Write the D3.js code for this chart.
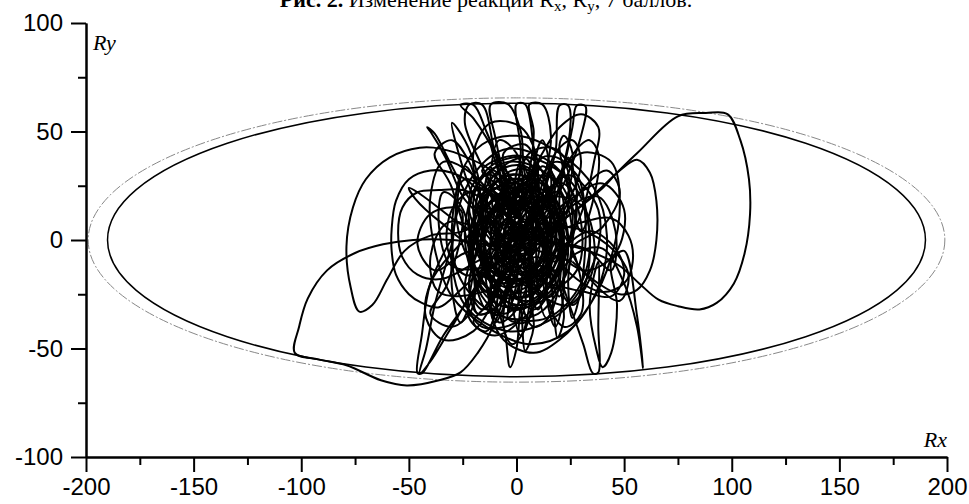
<!DOCTYPE html>
<html>
<head>
<meta charset="utf-8">
<script src="https://cdn.jsdelivr.net/npm/d3@7"></script>
<style>
  body { margin: 0; background: #fff; }
  svg { display: block; }
  .tick text { font-family: Arial, "Liberation Sans", sans-serif; font-size: 24px; fill: #000; }
  .axis path, .axis line { stroke: #000; stroke-width: 2px; }
</style>
</head>
<body>
<div id="chart"></div>
<script>
// axis ticks
var xMajor = [-200, -150, -100, -50, 0, 50, 100, 150, 200];
var xMinor = [-175, -125, -75, -25, 25, 75, 125, 175];
var yMajor = [-100, -50, 0, 50, 100];
var yMinor = [-75, -25, 25, 75];

// bounding ellipses (semi axes, data units)
var outerEllipse = [199, 65.5];
var innerEllipse = [190, 63];

// trajectory pieces (Rx, Ry)
var rightLoop = [[4,-2],[20,8],[37,22],[56,40],[75,57],[88,58.5],[98,58],[104,46],[108,28],[108.5,12],[106,-6],[101,-20],[93,-29],[85,-32],[75,-30.5],[66,-27.5],[57,-20],[48,-12],[36,-6],[22,-2],[8,0]];
var innerRightLoop = [[8,0],[28,14],[39,23],[48,32],[56,37],[62,31],[65,18],[65,0],[62,-14],[56,-23],[48,-25],[38,-20],[26,-10]];
var leftLowerLoop = [[26,-10],[6,-4],[-14,-2],[-30,0],[-48,0],[-62,-2],[-75,-6],[-88,-14],[-97,-27],[-101,-40],[-103,-52],[-92,-55],[-79,-57.7],[-63,-64.6],[-51,-67],[-36,-64.6],[-26,-61],[-18,-52],[-10,-38],[-4,-20],[0,-4]];
var leftLobes = [[0,-4],[-10,30],[-23,38],[-35,42],[-45,42.5],[-59,38],[-70,28],[-76,15],[-79,-3],[-77,-22],[-73,-33],[-67,-30],[-60,-18],[-52,-5],[-40,2],[-25,4],[-12,12],[-20,25],[-30,31],[-40,32],[-50,28],[-56,18],[-58,5],[-58,-5],[-56,-16],[-50,-25],[-44,-29],[-36,-31],[-26,-23],[-15,-12],[-8,4],[-15,18],[-25,23],[-36,23],[-46,22],[-53,15],[-55,3],[-53,-8],[-46,-16],[-35,-18],[-22,-12],[-12,-4],[-30,10],[-46,22],[-50,24],[-47,19],[-35,8],[-20,-2],[-14,6],[-25,20],[-33,38],[-40,50],[-41.5,52],[-38,49],[-30,34],[-20,16],[-6,2]];
var coreA = [[-6,2],[-2,4],[8,20],[16,10],[12,-12],[-4,-22],[-16,-12],[-14,8],[-2,18],[10,12],[14,-4],[4,-18],[-10,-16],[-18,0],[-10,16],[6,24],[18,14],[20,-6],[8,-24],[-8,-26],[-20,-10],[-20,10],[-6,26],[10,22],[22,4],[14,-16],[-2,-14],[-10,-2],[-4,10],[6,8],[8,-6],[-2,-10],[-6,2],[2,28],[-12,22],[-22,2],[-14,-22],[4,-30],[18,-18],[24,2],[14,24],[-4,30],[-18,16],[-16,-6],[-2,-8],[4,6],[-8,6],[-12,-10],[0,-20],[12,-14],[16,4],[6,18],[-8,14],[-6,-4],[6,-2],[10,10],[0,14],[-14,4],[-10,-20],[6,-28],[20,-10],[18,12],[2,20],[-12,12],[-14,-8],[-4,-16],[8,-12],[10,2],[2,6],[-4,-4],[4,-6],[0,2]];
var coreB = [[0,2],[-8,30],[-12,44],[-6,32],[-2,-30],[2,-44],[6,-30],[8,34],[12,46],[16,30],[14,-26],[18,-40],[22,-24],[20,20],[24,38],[28,22],[24,-20],[26,-36],[30,-22],[32,10],[28,30],[18,36],[6,20],[-10,-6],[-20,-26],[-26,-38],[-30,-22],[-28,14],[-24,34],[-18,24],[-14,-20],[-10,-38],[-4,-24],[-2,18],[2,36],[8,20],[10,-24],[14,-36],[20,-20],[18,16],[10,30],[-6,22],[-16,0],[-22,-20],[-18,-34],[-8,-30],[2,-12],[10,8],[14,26],[6,38],[-6,34],[-14,18],[-20,-4],[-24,-26],[-16,-40],[0,-38],[12,-26],[22,-8],[26,12],[18,28],[4,28],[-4,10]];
var coreC = [[-4,10],[-20,30],[-34,36],[-40,20],[-38,-4],[-30,-26],[-14,-40],[6,-48],[24,-42],[38,-22],[42,2],[36,24],[20,40],[0,48],[-16,44],[-26,30],[-28,10],[-20,-12],[-6,-20],[8,-14],[14,2],[8,16],[-4,16],[-30,-6],[-40,-20],[-42,-36],[-34,-46],[-20,-42],[-8,-22],[0,0],[16,24],[30,40],[44,36],[48,18],[44,-8],[34,-30],[20,-46],[8,-52],[-6,-46],[-12,-30],[-8,-8],[4,12],[10,34],[2,52],[-12,54],[-20,40],[-16,18],[-4,-4],[10,-24],[24,-30],[34,-18],[36,0],[30,16],[16,20],[2,10]];
var coreD = [[2,10],[0,2],[6,14],[-4,22],[-12,10],[-8,-8],[4,-16],[14,-6],[12,12],[0,26],[-14,20],[-18,-2],[-10,-22],[6,-26],[16,-12],[18,8],[8,24],[-6,18],[-10,2],[-2,-12],[10,-10],[12,4],[4,16],[-8,12],[-12,-6],[-2,-24],[12,-20],[20,-2],[14,18],[2,30],[-10,26],[-16,8],[-14,-14],[-2,-32],[10,-28],[18,-16],[22,0],[16,20],[4,34],[-8,32],[-18,16],[-22,-4],[-16,-26],[-4,-36],[10,-34],[20,-22],[24,-4],[20,14],[10,28],[-2,22],[-8,4],[-4,-14],[6,-20],[14,-14],[16,0],[10,14],[-2,12],[-6,-2],[2,-10],[8,-4],[6,8],[-2,6],[0,-4],[-14,-30],[-20,-38],[-10,-44],[2,-36],[4,-8],[-2,24],[-6,40],[4,44],[10,30],[8,-2],[2,-26],[8,-40],[16,-34],[14,-8],[8,20],[12,38],[22,36],[24,16],[16,-8],[4,-22],[-10,-26],[-20,-16],[-24,4],[-18,26],[-4,36],[12,32],[22,20],[26,0],[22,-18],[8,-30],[-8,-30],[-18,-20],[-20,0],[-12,18],[2,22],[12,14],[14,-2],[6,-14],[-6,-12],[-10,0],[-4,10],[4,4]];
var coreE = [[4,4],[-2,-20],[-4,-34],[0,-20],[2,16],[4,30],[8,18],[6,-22],[10,-32],[14,-20],[12,20],[16,32],[18,18],[16,-18],[20,-26],[22,-12],[18,14],[-2,24],[-16,12],[-22,-8],[-12,-18],[-8,10],[-6,28],[-12,32],[-16,10],[-12,-20],[-14,-32],[-18,-24],[-20,4],[-16,24],[-6,14],[4,-4],[16,-22],[28,-14],[30,8],[22,26],[10,20],[2,0],[-6,-20],[-16,-10],[-14,10],[-4,18],[8,10],[14,-10],[26,-30],[32,-20],[34,0],[30,22],[18,42],[6,40],[0,22],[-2,2],[-10,-12],[-24,-16],[-32,-4],[-30,14],[-22,22],[-10,22],[0,10]];
var coreF = [[0,10],[-6,20],[-14,14],[-12,2],[-4,-2],[2,8],[-2,16],[-10,24],[-16,18],[-16,6],[-8,-4],[0,-10],[6,-4],[4,6],[-4,4],[-10,-8],[-6,-18],[2,-20],[8,-14],[6,-6],[-2,-12],[-8,-22],[-2,-30],[6,-28],[10,-20],[14,-10],[10,0],[2,-2],[0,-16],[-6,-26],[-12,-20],[-12,-10],[-6,-2],[4,4],[12,8],[16,18],[10,24],[2,20],[2,10],[10,4],[16,-4],[18,6],[14,14],[6,12],[-2,28],[-8,34],[-14,28],[-8,20],[0,14],[8,28],[12,34],[18,28],[14,18],[4,2],[-6,-14],[-14,-24],[-18,-16],[-14,-6],[-6,8],[-10,18],[-18,24],[-20,12],[-14,-2],[-4,-8],[6,-16],[12,-26],[18,-20],[16,-12],[8,-8],[0,-24],[-4,-36],[4,-38],[8,-30],[4,-18],[-4,-14],[-12,-30],[-8,-38],[0,-32],[2,-20],[10,-12],[20,-14],[22,-4],[16,2],[8,-2],[-4,22],[-12,30],[-20,26],[-22,14],[-18,0],[-20,-10],[-22,-22],[-16,-32],[-10,-26],[-6,-10],[0,0]];
var coreG = [[0,0],[8,16],[4,26],[-4,28],[-8,18],[-4,6],[6,-2],[14,4],[16,14],[10,20],[0,16],[-6,-2],[-2,-16],[8,-22],[14,-14],[12,-2],[4,4],[-4,-2],[-6,-14],[0,-26],[8,-32],[14,-26],[12,-16],[4,-10],[-2,-4],[-10,6],[-14,16],[-10,26],[-2,32],[6,32],[10,24],[8,10],[2,-4],[-4,-20],[-10,-32],[-18,-34],[-20,-24],[-14,-14],[-4,-6],[6,8],[10,18],[20,22],[22,10],[18,-6],[10,-16],[-2,-18],[-14,-10],[-20,4],[-16,14],[-6,12],[2,2],[6,-12],[2,-28],[-6,-34],[-12,-28],[-10,-16],[-2,-6],[8,2],[18,-2],[20,-14],[16,-26],[8,-24],[4,-14],[0,0],[-8,24],[-16,32],[-6,38],[4,38],[8,30],[2,18]];
var coreH = [[2,10],[-24,28],[-30,6],[-26,-18],[-10,-34],[14,-36],[30,-20],[34,4],[26,26],[6,38],[-12,34],[-22,14],[-16,-10],[0,-18],[20,-6],[28,14],[18,34],[-4,42],[-20,30],[-30,-2],[-24,-30],[-4,-42],[20,-34],[36,-10],[38,14],[24,30],[10,14],[0,-6],[-6,-40],[-2,-48],[6,-36],[4,16],[0,40],[-8,46],[-12,30],[-8,-20],[-14,-42],[-22,-36],[-20,-10],[-26,16],[-34,22],[-36,6],[-30,-12],[-12,-12],[10,-2],[32,-4],[44,-14],[46,4],[38,20],[24,14],[12,-16],[22,-40],[30,-34],[28,-10],[14,20],[18,40],[26,46],[30,36],[20,10],[4,-10],[-16,-24],[-36,-24],[-40,-8],[-32,8],[-14,4],[2,-2]];
var midLoops = [[2,-2],[24,18],[40,26],[50,14],[46,-6],[32,-14],[18,-2],[28,20],[42,32],[48,22],[40,6],[26,-4],[36,-20],[48,-28],[52,-16],[42,-2],[24,6],[-24,-6],[-38,-14],[-46,-2],[-40,12],[-26,14],[-32,-20],[-40,-34],[-30,-40],[-20,-30],[-30,24],[-38,40],[-30,46],[-22,36],[-14,14],[0,0]];
var topStreaks = [[2,10],[-8,36],[-20,56],[-26,62.2],[-20,62.3],[-14,50],[-6,30],[0,10],[6,32],[8,50],[6,62.5],[12,62.5],[16,48],[12,26],[4,6],[-4,24],[-10,48],[-12,62.4],[-4,62.6],[2,50],[4,30],[14,10],[22,34],[26,52],[28,62],[32,61.7],[30,48],[22,26],[10,4],[18,-10],[30,12],[36,36],[38,52],[30,58],[20,52],[12,40],[0,20],[-14,8],[-18,30],[-24,46],[-30,54],[-28,44],[-20,20],[-8,0]];
var topStreaks2 = [[2,-2],[-16,34],[-24,54],[-22,62.3],[-16,62.4],[-10,40],[-2,14],[2,40],[0,62.6],[4,62.6],[8,42],[10,18],[18,40],[20,62],[24,62],[24,44],[14,16],[-2,0]];
var rightTop = [[-8,0],[8,10],[20,30],[30,44],[34,46],[38,40],[36,20],[30,4],[24,24],[20,44],[22,48],[26,40],[22,16],[10,0]];
var rightLobes = [[10,0],[30,8],[44,10],[52,2],[54,-10],[50,-20],[40,-24],[28,-18],[20,-8],[34,4],[46,-4],[50,-16],[44,-26],[32,-24],[14,-20]];
var bottomStreaks = [[14,-20],[-8,0],[-20,-24],[-34,-44],[-44,-61.5],[-46,-61.3],[-44,-44],[-40,-20],[-30,0],[-38,-30],[-42,-50],[-45,-61.5],[-40,-56],[-30,-40],[-16,-20],[-6,-40],[-3,-58.6],[0,-50],[2,-30],[4,-51],[8,-40],[6,-20],[16,-30],[19,-45],[22,-36],[20,-18],[25,-31],[31,-48],[35.5,-61.4],[38,-61],[38,-40],[38,-10],[34,-30],[37,-50],[40,-58.6],[44,-52],[46.7,-30],[44,-10],[50,-5],[56,-35],[58.8,-59],[56,-40],[50,-20],[40,-4],[28,-6],[14,-20],[0,-6]];

var pieces = [rightLoop, innerRightLoop, leftLowerLoop, leftLobes, coreA, coreB, coreC, coreD, coreE, coreF, coreG, coreH, midLoops, topStreaks, topStreaks2, rightTop, rightLobes, bottomStreaks];

var width = 969, height = 504;

var x = d3.scaleLinear().domain([-200, 200]).range([86, 947]);
var y = d3.scaleLinear().domain([-100, 100]).range([457, 23]);

var svg = d3.select("#chart").append("svg")
    .attr("width", width)
    .attr("height", height);

// title, cut at the top edge in the scan
var title = svg.append("text")
    .attr("x", 486)
    .attr("y", 7)
    .attr("text-anchor", "middle")
    .style("font-family", "'Liberation Serif', 'Times New Roman', serif")
    .style("font-size", "22px");
title.append("tspan").style("font-weight", "bold").text("Рис. 2.");
title.append("tspan").text(" Изменение реакций R");
title.append("tspan").attr("dy", 4).style("font-size", "15px").text("x");
title.append("tspan").attr("dy", -4).text(", R");
title.append("tspan").attr("dy", 4).style("font-size", "15px").text("y");
title.append("tspan").attr("dy", -4).text(", 7 баллов.");

// ellipses
svg.append("ellipse")
    .attr("cx", x(0)).attr("cy", y(0))
    .attr("rx", x(outerEllipse[0]) - x(0))
    .attr("ry", y(0) - y(outerEllipse[1]))
    .attr("fill", "none")
    .attr("stroke", "#888")
    .attr("stroke-width", 1)
    .attr("stroke-dasharray", "10,2,2,2");

svg.append("ellipse")
    .attr("cx", x(0)).attr("cy", y(0))
    .attr("rx", x(innerEllipse[0]) - x(0))
    .attr("ry", y(0) - y(innerEllipse[1]))
    .attr("fill", "none")
    .attr("stroke", "#000")
    .attr("stroke-width", 1.5);

// trajectory
var line = d3.line()
    .x(function(d) { return x(d[0]); })
    .y(function(d) { return y(d[1]); })
    .curve(d3.curveCatmullRom.alpha(0.5));

svg.selectAll("path.traj")
    .data(pieces)
  .enter().append("path")
    .attr("class", "traj")
    .attr("d", line)
    .attr("fill", "none")
    .attr("stroke", "#000")
    .attr("stroke-width", 2)
    .attr("stroke-linejoin", "round");

// axes
svg.append("g")
    .attr("class", "axis")
    .attr("transform", "translate(0," + y(-100) + ")")
    .call(d3.axisBottom(x).tickValues(xMajor).tickSize(15).tickSizeOuter(0).tickPadding(6).tickFormat(d3.format("d")));

svg.append("g")
    .attr("class", "axis")
    .attr("transform", "translate(0," + y(-100) + ")")
    .call(d3.axisBottom(x).tickValues(xMinor).tickSize(8).tickSizeOuter(0).tickFormat(""));

svg.append("g")
    .attr("class", "axis")
    .attr("transform", "translate(" + x(-200) + ",0)")
    .call(d3.axisLeft(y).tickValues(yMajor).tickSize(15).tickSizeOuter(0).tickPadding(8).tickFormat(d3.format("d")));

svg.append("g")
    .attr("class", "axis")
    .attr("transform", "translate(" + x(-200) + ",0)")
    .call(d3.axisLeft(y).tickValues(yMinor).tickSize(8).tickSizeOuter(0).tickFormat(""));

svg.selectAll(".tick text").text(function() { return this.textContent.replace("−", "-"); });

// axis names
svg.append("text")
    .attr("x", 93).attr("y", 50)
    .style("font-family", "'Liberation Serif', 'Times New Roman', serif")
    .style("font-style", "italic")
    .style("font-size", "22px")
    .text("Ry");

svg.append("text")
    .attr("x", 947).attr("y", 447)
    .attr("text-anchor", "end")
    .style("font-family", "'Liberation Serif', 'Times New Roman', serif")
    .style("font-style", "italic")
    .style("font-size", "22px")
    .text("Rx");
</script>
</body>
</html>
